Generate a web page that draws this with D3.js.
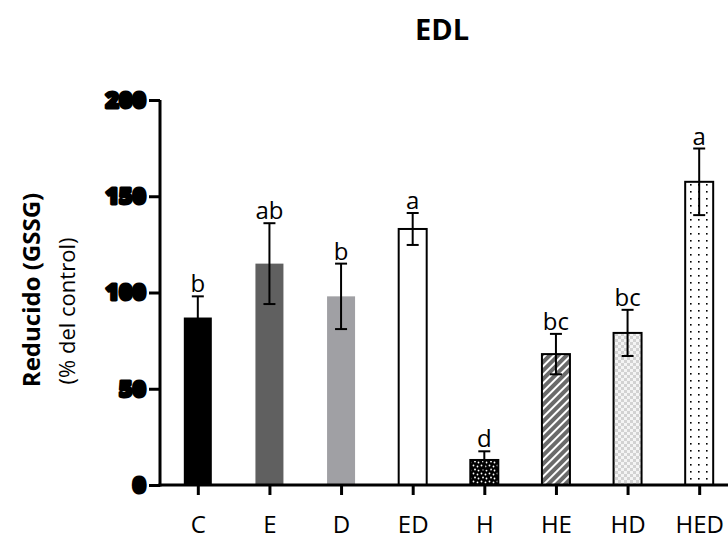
<!DOCTYPE html>
<html><head><meta charset="utf-8">
<script src="https://cdn.jsdelivr.net/npm/d3@7"></script>
<style>body{margin:0;background:#fff}svg{display:block}</style>
</head><body><div id="chart"></div>
<script>
const categories = ["C","E","D","ED","H","HE","HD","HED"];
const values = [87, 115, 98, 133, 13, 68, 79, 157.5];
const errors = [11, 21, 17, 8.3, 4.5, 10.5, 12, 17.3];
const letters = ["b","ab","b","a","d","bc","bc","a"];
const yTicks = [0, 50, 100, 150, 200];
const fills = ["#000000","#606060","#a0a0a4","#ffffff","url(#pH)","url(#pHE)","url(#pHD)","url(#pHED)"];
const outlined = [false,false,false,true,true,true,true,true];

const W = 728, H = 541;
const FONT = "'Open Sans', 'Noto Sans', sans-serif";
const svg = d3.select("#chart").append("svg").attr("width", W).attr("height", H);
const defs = svg.append("defs");

// H: black with white speckles
const pH = defs.append("pattern").attr("id","pH").attr("patternUnits","userSpaceOnUse").attr("width",8).attr("height",8);
pH.append("rect").attr("width",8).attr("height",8).attr("fill","#000");
[[1.5,1.5],[5.5,2.5],[3,5.5],[6.5,6.5]].forEach(p=>pH.append("circle").attr("cx",p[0]).attr("cy",p[1]).attr("r",0.9).attr("fill","#fff"));
// HE: gray with white diagonal hatch
const pHE = defs.append("pattern").attr("id","pHE").attr("patternUnits","userSpaceOnUse").attr("width",6).attr("height",6).attr("patternTransform","rotate(45)");
pHE.append("rect").attr("width",6).attr("height",6).attr("fill","#6a6a6a");
pHE.append("rect").attr("x",0).attr("y",0).attr("width",2).attr("height",6).attr("fill","#fff");
// HD: light checkerboard
const pHD = defs.append("pattern").attr("id","pHD").attr("patternUnits","userSpaceOnUse").attr("width",6).attr("height",6);
pHD.append("rect").attr("width",6).attr("height",6).attr("fill","#f4f4f4");
pHD.append("rect").attr("width",3).attr("height",3).attr("fill","#d2d2d2");
pHD.append("rect").attr("x",3).attr("y",3).attr("width",3).attr("height",3).attr("fill","#d2d2d2");
// HED: white with black dots
const pHED = defs.append("pattern").attr("id","pHED").attr("patternUnits","userSpaceOnUse").attr("width",8).attr("height",7);
pHED.append("rect").attr("width",8).attr("height",7).attr("fill","#fff");
pHED.append("rect").attr("x",2).attr("y",2).attr("width",1.6).attr("height",1.6).attr("fill","#000");

const x = d3.scalePoint().domain(categories).range([162, 735]).padding(0.5);
const y = d3.scaleLinear().domain([0, 200]).range([485, 100]);
const bw = 28;

// bars
svg.selectAll("rect.bar").data(categories).join("rect")
  .attr("class","bar")
  .attr("x", (d,i)=>x(d)-bw/2)
  .attr("y", (d,i)=>y(values[i]))
  .attr("width", bw)
  .attr("height", (d,i)=>y(0)-y(values[i]))
  .attr("fill", (d,i)=>fills[i])
  .attr("stroke", (d,i)=>outlined[i]?"#000":"none")
  .attr("stroke-width", 2);

// error bars
const eg = svg.append("g").attr("stroke","#000").attr("stroke-width",2);
categories.forEach((c,i)=>{
  const cx = x(c), t = y(values[i]+errors[i]), b = y(values[i]-errors[i]);
  eg.append("line").attr("x1",cx).attr("x2",cx).attr("y1",t).attr("y2",b);
  eg.append("line").attr("x1",cx-6).attr("x2",cx+6).attr("y1",t).attr("y2",t);
  eg.append("line").attr("x1",cx-6).attr("x2",cx+6).attr("y1",b).attr("y2",b);
});

// letters
svg.selectAll("text.sig").data(categories).join("text")
  .attr("class","sig")
  .attr("x", d=>x(d))
  .attr("y", (d,i)=>y(values[i]+errors[i])-4)
  .attr("text-anchor","middle")
  .attr("font-family",FONT)
  .attr("font-size",24)
  .text((d,i)=>letters[i]);

// y axis
const ya = svg.append("g").attr("transform","translate(160,0)")
  .call(d3.axisLeft(y).tickValues(yTicks).tickSize(11).tickPadding(3).tickFormat(d3.format("d")));
ya.select(".domain").attr("stroke-width",3).attr("d","M0,100V486.5");
ya.selectAll(".tick line").attr("stroke-width",3);
ya.selectAll(".tick text").attr("font-family",FONT)
  .attr("font-size",23).attr("font-weight","800").attr("fill","#000")
  .attr("stroke","#000").attr("stroke-width",3).attr("stroke-linejoin","round");

// x axis
const xa = svg.append("g").attr("transform","translate(0,485)")
  .call(d3.axisBottom(x).tickSize(10).tickPadding(21));
xa.select(".domain").attr("stroke-width",3).attr("d","M158.5,0H728");
xa.selectAll(".tick line").attr("stroke-width",3);
xa.selectAll(".tick text").attr("font-family",FONT)
  .attr("font-size",24).attr("fill","#000");

// title
svg.append("text").attr("x",442).attr("y",40).attr("text-anchor","middle")
  .attr("font-family",FONT).attr("font-weight","bold").attr("font-size",29)
  .text("EDL");

// y label
svg.append("text").attr("transform","translate(40,290) rotate(-90)").attr("text-anchor","middle")
  .attr("font-family",FONT).attr("font-weight","bold").attr("font-size",24)
  .text("Reducido (GSSG)");
svg.append("text").attr("transform","translate(75,311) rotate(-90)").attr("text-anchor","middle")
  .attr("font-family",FONT).attr("font-size",22)
  .text("(% del control)");
</script></body></html>
